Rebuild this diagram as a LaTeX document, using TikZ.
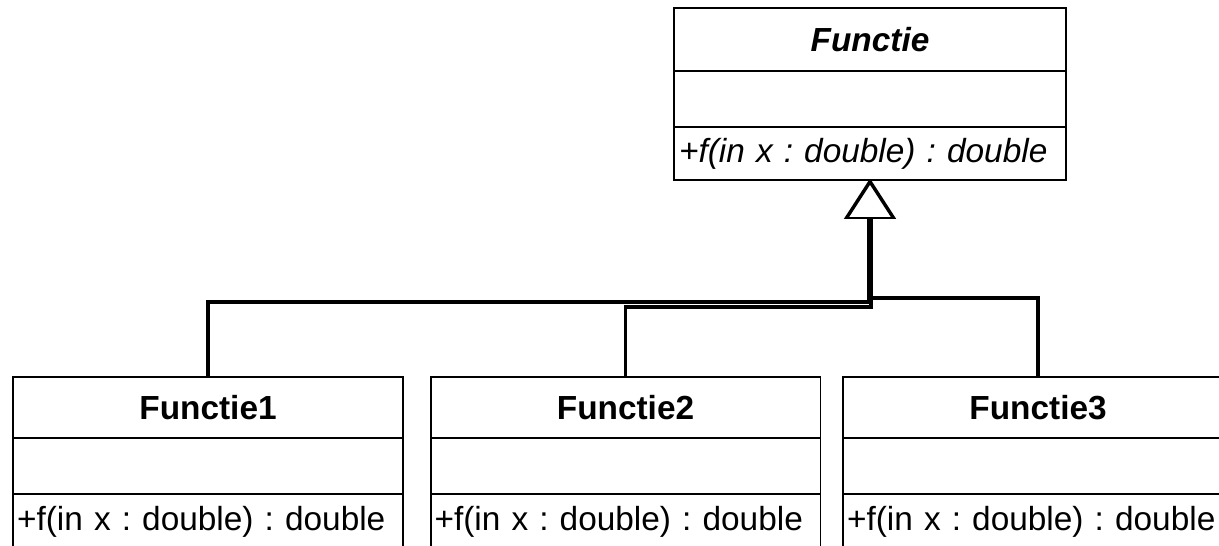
\documentclass[tikz,border=0pt]{standalone}
\usepackage{fontspec}
\setmainfont{Liberation Sans}
\usetikzlibrary{positioning,arrows.meta}
\frenchspacing
\begin{document}
\begin{tikzpicture}[x=0.02cm, y=-0.02cm,
        compartment/.style={draw, line width=1.1pt, outer sep=0pt, inner xsep=0.08cm,
            font=\fontsize{19}{23}\selectfont},
        classtitle/.style={compartment, minimum width=7.8cm, minimum height=1.22cm, font=\fontsize{19}{23}\selectfont\bfseries},
        classattr/.style={compartment, minimum width=7.8cm, minimum height=1.12cm},
        classops/.style={compartment, minimum width=7.8cm, minimum height=1.1cm, text width=7.64cm, align=left},
        generalization/.style={draw, line width=1.8pt,
            -{Triangle[open, length=0.78cm, width=1cm, line width=1pt]}}]
    \useasboundingbox (0,0) rectangle (1219,546);
    \clip (0,0) rectangle (1219,546);
    % abstract base class
    \node[classtitle, minimum width=7.84cm, minimum height=1.26cm,
        font=\fontsize{19}{23}\selectfont\bfseries\itshape] (fn-title) at (870,39.5) {Functie};
    \node[classattr, minimum width=7.84cm, below=0pt of fn-title] (fn-attr) {};
    \node[classops, minimum width=7.84cm, minimum height=1.06cm, text width=7.64cm,
        font=\fontsize{19}{23}\selectfont\itshape, below=0pt of fn-attr] (fn-ops) {+f(in x : double) : double};
    % subclasses
    \node[classtitle] (f1-title) at (208,407.5) {Functie1};
    \node[classattr, below=0pt of f1-title] (f1-attr) {};
    \node[classops, below=0pt of f1-attr] (f1-ops) {+f(in x : double) : double};
    \node[classtitle] (f2-title) at (625.5,407.5) {Functie2};
    \node[classattr, below=0pt of f2-title] (f2-attr) {};
    \node[classops, below=0pt of f2-attr] (f2-ops) {+f(in x : double) : double};
    \node[classtitle] (f3-title) at (1038,407.5) {Functie3};
    \node[classattr, below=0pt of f3-title] (f3-attr) {};
    \node[classops, below=0pt of f3-attr] (f3-ops) {+f(in x : double) : double};
    % inheritance
    \draw[generalization] (f1-title.north) -- ++(0,-75) -| ([xshift=-0.02cm]fn-ops.south);
    \draw[generalization] (f2-title.north) -- ++(0,-70) -| ([xshift=0.02cm]fn-ops.south);
    \draw[generalization] (f3-title.north) -- ++(0,-79) -| (fn-ops.south);
\end{tikzpicture}
\end{document}
